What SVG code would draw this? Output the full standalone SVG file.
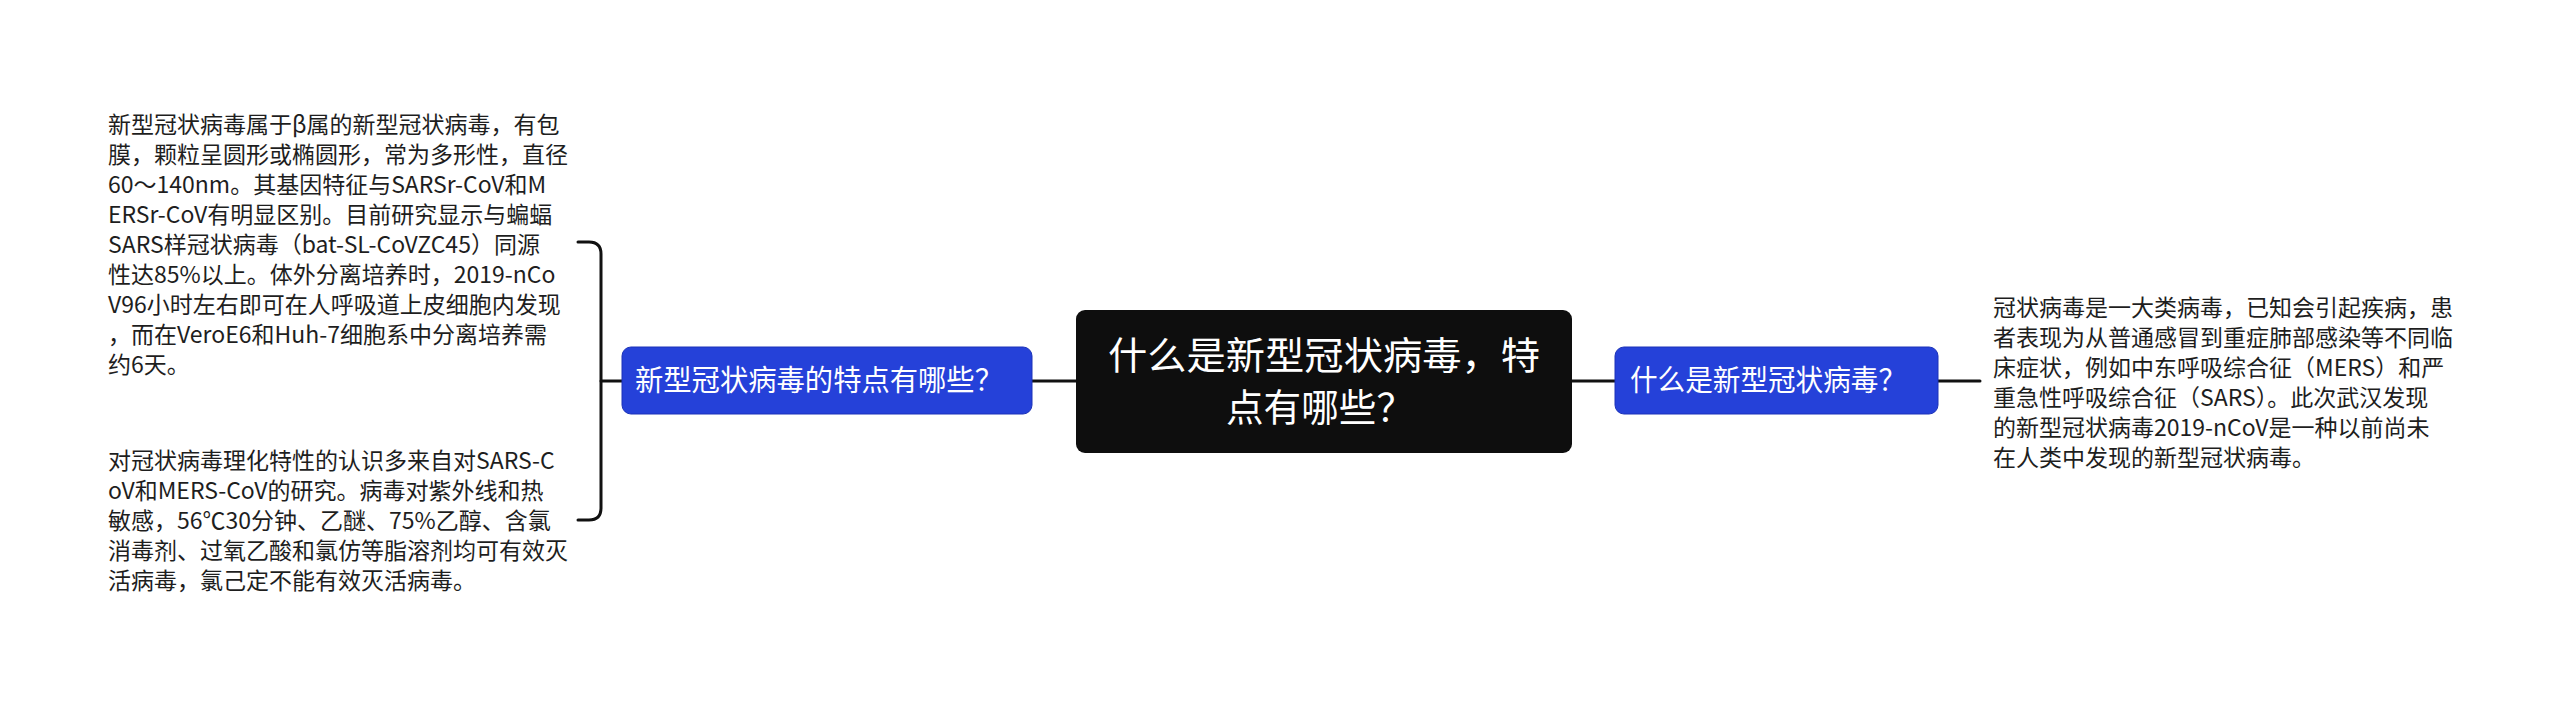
<svg xmlns="http://www.w3.org/2000/svg" width="2560" height="703" viewBox="0 0 2560 703">
<style>
.conn{fill:none;stroke:#111;stroke-width:3;stroke-linecap:round}
.blue{fill:#2541d9;stroke:#1c33b8;stroke-width:1}
.root{fill:#0e0e0e}
.t{font-family:"Noto Sans CJK SC","Noto Sans",sans-serif;fill:#1e1e1e;font-size:23px}
.bt{font-family:"Noto Sans CJK SC","Noto Sans",sans-serif;fill:#fff;font-size:29px}
.rt{font-family:"Noto Sans CJK SC","Noto Sans",sans-serif;fill:#fff;font-size:38px}
</style>
<rect width="2560" height="703" fill="#fff"/>
<g id="connectors">
<path class="conn" d="M1032 381H1076"/>
<path class="conn" d="M1571 381H1615"/>
<path class="conn" d="M1938 381H1980"/>
<path class="conn" d="M622 381H601"/>
<path class="conn" d="M578 242H589Q601 242 601 254V508Q601 520 589 520H578"/>
</g>
<g id="root">
<rect class="root" x="1076" y="310" width="496" height="143" rx="9"/>
<text class="rt" x="1324" y="369" text-anchor="middle" textLength="432" lengthAdjust="spacingAndGlyphs">什么是新型冠状病毒，特</text>
<text class="rt" x="1320" y="421" text-anchor="middle" textLength="188" lengthAdjust="spacingAndGlyphs">点有哪些？</text>
</g>
<g id="node-left">
<rect class="blue" x="622" y="347" width="410" height="67" rx="9"/>
<text class="bt" x="635" y="391" textLength="368" lengthAdjust="spacingAndGlyphs">新型冠状病毒的特点有哪些？</text>
</g>
<g id="node-right">
<rect class="blue" x="1615" y="347" width="323" height="67" rx="9"/>
<text class="bt" x="1630" y="391" textLength="276" lengthAdjust="spacingAndGlyphs">什么是新型冠状病毒？</text>
</g>
<g id="text-left-1">
<text class="t" x="108" y="133">新型冠状病毒属于β属的新型冠状病毒，有包</text>
<text class="t" x="108" y="163">膜，颗粒呈圆形或椭圆形，常为多形性，直径</text>
<text class="t" x="108" y="193">60～140nm。其基因特征与SARSr-CoV和M</text>
<text class="t" x="108" y="223">ERSr-CoV有明显区别。目前研究显示与蝙蝠</text>
<text class="t" x="108" y="253">SARS样冠状病毒（bat-SL-CoVZC45）同源</text>
<text class="t" x="108" y="283">性达85%以上。体外分离培养时，2019-nCo</text>
<text class="t" x="108" y="313">V96小时左右即可在人呼吸道上皮细胞内发现</text>
<text class="t" x="108" y="343">，而在VeroE6和Huh-7细胞系中分离培养需</text>
<text class="t" x="108" y="373">约6天。</text>
</g>
<g id="text-left-2">
<text class="t" x="108" y="469">对冠状病毒理化特性的认识多来自对SARS-C</text>
<text class="t" x="108" y="499">oV和MERS-CoV的研究。病毒对紫外线和热</text>
<text class="t" x="108" y="529">敏感，56℃30分钟、乙醚、75%乙醇、含氯</text>
<text class="t" x="108" y="559">消毒剂、过氧乙酸和氯仿等脂溶剂均可有效灭</text>
<text class="t" x="108" y="589">活病毒，氯己定不能有效灭活病毒。</text>
</g>
<g id="text-right">
<text class="t" x="1993" y="316">冠状病毒是一大类病毒，已知会引起疾病，患</text>
<text class="t" x="1993" y="346">者表现为从普通感冒到重症肺部感染等不同临</text>
<text class="t" x="1993" y="376">床症状，例如中东呼吸综合征（MERS）和严</text>
<text class="t" x="1993" y="406">重急性呼吸综合征（SARS）。此次武汉发现</text>
<text class="t" x="1993" y="436">的新型冠状病毒2019-nCoV是一种以前尚未</text>
<text class="t" x="1993" y="466">在人类中发现的新型冠状病毒。</text>
</g>
</svg>
